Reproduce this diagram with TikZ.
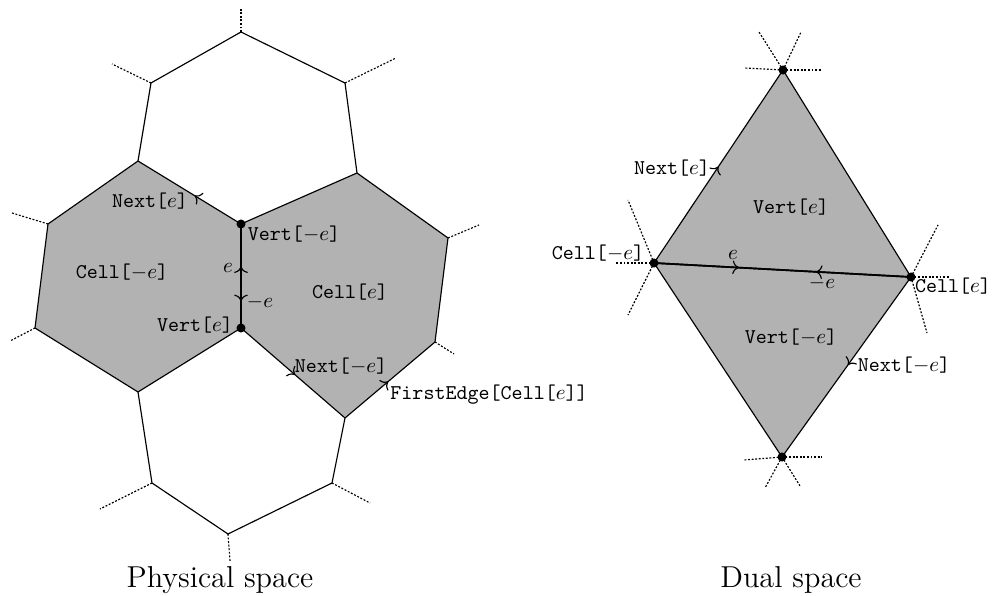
\documentclass[tikz,border=0pt]{standalone}
\usetikzlibrary{decorations.markings,arrows.meta}
\begin{document}
\begin{tikzpicture}[x=0.476pt,y=-0.476pt,
  hexline/.style={line width=0.55pt},
  midline/.style={line width=0.8pt},
  dotline/.style={line width=0.55pt,dash pattern=on 0.9pt off 0.8pt},
  cellfill/.style={fill=black!30},
  vdot/.style={circle,fill=black,inner sep=0pt,minimum size=4.3pt},
  lbl/.style={inner sep=0pt,font=\ttfamily},
  mlbl/.style={inner sep=0pt},
  arrowat/.style={postaction={decorate},decoration={markings,mark=at position #1 with {\arrow{To[length=3pt,width=6.5pt,line width=0.55pt]}}}}]
\useasboundingbox (0,0) rectangle (998,596);
% ---------- Physical space ----------
\coordinate (A) at (241,224);   % Vert[-e]
\coordinate (B) at (241,328);   % Vert[e]
\coordinate (UL) at (138,161);
\coordinate (UR) at (357,173);
\coordinate (LL1) at (48,224);
\coordinate (LL2) at (35,328);
\coordinate (LB) at (138,392);
\coordinate (R1) at (448,238);
\coordinate (R2) at (435,342);
\coordinate (RB) at (345,418);
\coordinate (T) at (241,32);
\coordinate (TL) at (151,83);
\coordinate (TR) at (345,83);
\coordinate (BL) at (152,483);
\coordinate (BB) at (228,534);
\coordinate (BR) at (332,483);
\coordinate (dT) at (241,9);
\coordinate (dTL) at (112,64);
\coordinate (dTR) at (396,58);
\coordinate (dLL1) at (12,213);
\coordinate (dLL2) at (10,341);
\coordinate (dR1) at (479,225);
\coordinate (dR2) at (454,354);
\coordinate (dBL) at (100,509);
\coordinate (dBB) at (230,561);
\coordinate (dBR) at (370,503);
\fill[cellfill] (UL) -- (A) -- (B) -- (LB) -- (LL2) -- (LL1) -- cycle;
\fill[cellfill] (A) -- (UR) -- (R1) -- (R2) -- (RB) -- (B) -- cycle;
\draw[hexline] (UL) -- (TL) -- (T) -- (TR) -- (UR);
\draw[hexline] (UL) -- (LL1) -- (LL2) -- (LB);
\draw[hexline] (LB) -- (B);
\draw[hexline] (A) -- (UR) -- (R1) -- (R2);
\draw[hexline] (LB) -- (BL) -- (BB) -- (BR) -- (RB);
\draw[hexline,arrowat=0.45] (A) -- (UL);
\draw[hexline,arrowat=0.52] (B) -- (RB);
\draw[hexline,arrowat=0.48] (RB) -- (R2);
\draw[midline,arrowat=0.59] (B) -- (A);
\draw[midline,arrowat=0.74] (A) -- (B);
\draw[dotline] (T) -- (dT);
\draw[dotline] (TL) -- (dTL);
\draw[dotline] (TR) -- (dTR);
\draw[dotline] (LL1) -- (dLL1);
\draw[dotline] (LL2) -- (dLL2);
\draw[dotline] (R1) -- (dR1);
\draw[dotline] (R2) -- (dR2);
\draw[dotline] (BL) -- (dBL);
\draw[dotline] (BB) -- (dBB);
\draw[dotline] (BR) -- (dBR);
\node[vdot] (dA) at (A) {};
\node[vdot] (dB) at (B) {};
\node[lbl] (l1) at (150,201) {Next[$e$]};
\node[lbl] (l2) at (294,234) {Vert[$-e$]};
\node[lbl] (l3) at (122,272) {Cell[$-e$]};
\node[mlbl] (l4) at (228,268) {$e$};
\node[mlbl] (l5) at (260,302) {$-e$};
\node[lbl] (l6) at (195,325) {Vert[$e$]};
\node[lbl] (l7) at (350,292) {Cell[$e$]};
\node[lbl] (l8) at (341,366) {Next[$-e$]};
\node[lbl,anchor=west] (l9) at (390,395) {FirstEdge[Cell[$e$]]};
\node[inner sep=0pt,font=\Large,anchor=base] (cap1) at (220,588) {Physical space};
% ---------- Dual space ----------
\coordinate (P) at (654,263);   % Cell[-e]
\coordinate (Q) at (911,277);   % Cell[e]
\coordinate (U) at (783,70);
\coordinate (D) at (782,457);
\coordinate (dU1) at (759,32);
\coordinate (dU2) at (801,32);
\coordinate (dU3) at (744,68);
\coordinate (dU4) at (822,70);
\coordinate (dD1) at (744,460);
\coordinate (dD2) at (822,457);
\coordinate (dD3) at (765,488);
\coordinate (dD4) at (800,486);
\coordinate (dP1) at (628,200);
\coordinate (dP2) at (615,263);
\coordinate (dP3) at (628,315);
\coordinate (dQ1) at (938,225);
\coordinate (dQ2) at (950,277);
\coordinate (dQ3) at (927,333);
\fill[cellfill] (P) -- (U) -- (Q) -- (D) -- cycle;
\draw[hexline] (U) -- (Q);
\draw[hexline] (D) -- (P);
\draw[hexline,arrowat=0.5] (P) -- (U);
\draw[hexline,arrowat=0.49] (Q) -- (D);
\draw[midline,arrowat=0.33] (P) -- (Q);
\draw[midline,arrowat=0.37] (Q) -- (P);
\foreach \c in {dU1,dU2,dU3,dU4} \draw[dotline] (U) -- (\c);
\foreach \c in {dD1,dD2,dD3,dD4} \draw[dotline] (D) -- (\c);
\foreach \c in {dP1,dP2,dP3} \draw[dotline] (P) -- (\c);
\foreach \c in {dQ1,dQ2,dQ3} \draw[dotline] (Q) -- (\c);
\node[vdot] (dP) at (P) {};
\node[vdot] (dQ) at (Q) {};
\node[vdot] (dU) at (U) {};
\node[vdot] (dD) at (D) {};
\node[lbl] (r1) at (672,168) {Next[$e$]};
\node[lbl] (r2) at (598,253) {Cell[$-e$]};
\node[mlbl] (r3) at (733,255) {$e$};
\node[mlbl] (r4) at (822,283) {$-e$};
\node[lbl] (r5) at (953,286) {Cell[$e$]};
\node[lbl] (r6) at (791,207) {Vert[$e$]};
\node[lbl] (r7) at (791,337) {Vert[$-e$]};
\node[lbl] (r8) at (904,365) {Next[$-e$]};
\node[inner sep=0pt,font=\Large,anchor=base] (cap2) at (791,588) {Dual space};
\end{tikzpicture}
\end{document}
